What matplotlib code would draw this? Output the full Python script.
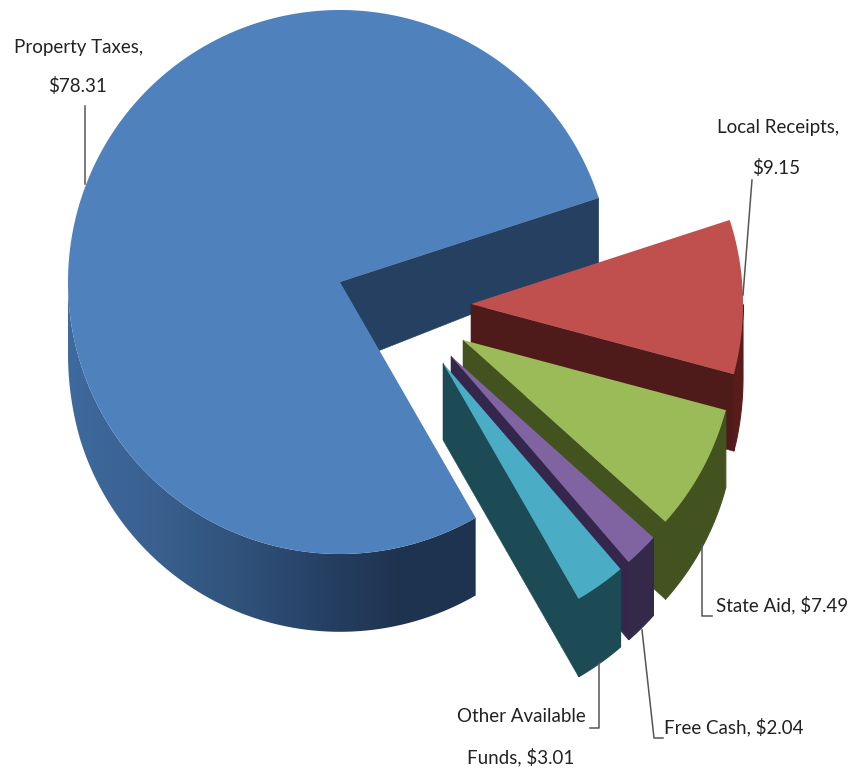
from matplotlib import pyplot as plt
from matplotlib.colors import to_rgb
from matplotlib.patches import Polygon
import numpy as np

# budget sources, in dollars
categories = ["Property Taxes", "Local Receipts", "State Aid", "Free Cash", "Other Available Funds"]
amounts = [78.31, 9.15, 7.49, 2.04, 3.01]

# look of each slice
top_colors = ["#4f81bd", "#c0504d", "#9bbb59", "#8064a2", "#4bacc6"]
wall_colors = ["#254061", "#4f1b1a", "#435320", "#35264b", "#1c4a55"]
side_colors = [None, "#591c1b", "#435320", "#35294a", "#1c4a55"]

# where the tip of each slice ends up after exploding
tips_x = [340, 471, 463, 451, 443]
tips_y = [282, 304, 340, 356, 363]
tip_depth = [84, 78, 77, 77, 77]

RX = 272
RY = 272
START = 18.0

# side of the big slice gets darker going left to right
shade_x = [66, 150, 250, 330, 400, 480]
shade_c = ["#3e6a9e", "#3a6190", "#2f5078", "#253f62", "#1f3350", "#1e3450"]


def rim_depth(y):
    # thickness grows a little towards the front
    return np.interp(y, [197, 363, 600], [66, 77, 78])


def draw_side(ax, i, x, y, d, z):
    # only the part of the rim that faces down can be seen
    keep = y >= tips_y[i]
    xs = np.r_[x[keep], x[keep][::-1]]
    ys = np.r_[y[keep], (y + d)[keep][::-1]]
    if side_colors[i]:
        ax.fill(xs, ys, color=side_colors[i], lw=0.8, zorder=z)
        return
    rgb = np.array([to_rgb(c) for c in shade_c])
    grid = np.linspace(shade_x[0], shade_x[-1], 400)
    ramp = np.stack([np.interp(grid, shade_x, rgb[:, k]) for k in range(3)], axis=-1)[None, :, :]
    im = ax.imshow(ramp, extent=(shade_x[0], shade_x[-1], 650, 250), aspect="auto", zorder=z)
    im.set_clip_path(Polygon(np.c_[xs, ys], transform=ax.transData))


def draw_slice(ax, i, t0, t1, wall, z):
    cx, cy = tips_x[i], tips_y[i]
    t = np.radians(np.linspace(t0, t1, 400))
    x = cx + RX * np.cos(t)
    y = cy - RY * np.sin(t)
    d = rim_depth(y)

    draw_side(ax, i, x, y, d, z)

    # cut face that looks towards the viewer
    wx = [cx, x[wall], x[wall], cx]
    wy = [cy, y[wall], y[wall] + d[wall], cy + tip_depth[i]]
    ax.fill(wx, wy, color=wall_colors[i], lw=0.4, zorder=z + 0.1)

    # top face
    ax.fill(np.r_[cx, x], np.r_[cy, y], color=top_colors[i], lw=0, zorder=z + 0.2)


fig = plt.figure(figsize=(8.52, 7.73), dpi=100)
ax = fig.add_axes([0, 0, 1, 1])

# slices run from START, big one counter clockwise, rest clockwise after it
sweep = np.array(amounts) / sum(amounts) * 360
draw_slice(ax, 0, START, START + sweep[0], 0, 1)
t = START
for i in range(1, 5):
    draw_slice(ax, i, t, t - sweep[i], -1, 1 + i)
    t -= sweep[i]

ax.set_xlim(0, 852)
ax.set_ylim(773, 0)
ax.axis("off")

# leader lines
leaders = [
    ([85, 85], [106, 184]),
    ([752, 743], [180, 295]),
    ([702, 702, 712], [545, 616, 616]),
    ([642, 654, 663], [630, 738, 738]),
    ([599, 599, 590], [663, 728, 728]),
]
for lx, ly in leaders:
    ax.plot(lx, ly, color="#555555", lw=1.1, zorder=10)

font = dict(family=["Lato", "Liberation Sans"], fontsize=13.5, color="#222222",
            ha="center", va="center", zorder=11)
ax.text(79, 48, "Property Taxes,", **font)
ax.text(78, 86, "$%.2f" % amounts[0], **font)
ax.text(778, 128, "Local Receipts,", **font)
ax.text(776, 168, "$%.2f" % amounts[1], **font)
ax.text(782, 605, "State Aid, $%.2f" % amounts[2], **font)
ax.text(734, 727, "Free Cash, $%.2f" % amounts[3], **font)
ax.text(521, 717, "Other Available", **font)
ax.text(521, 757, "Funds, $%.2f" % amounts[4], **font)

fig.savefig("out.png", dpi=100)
